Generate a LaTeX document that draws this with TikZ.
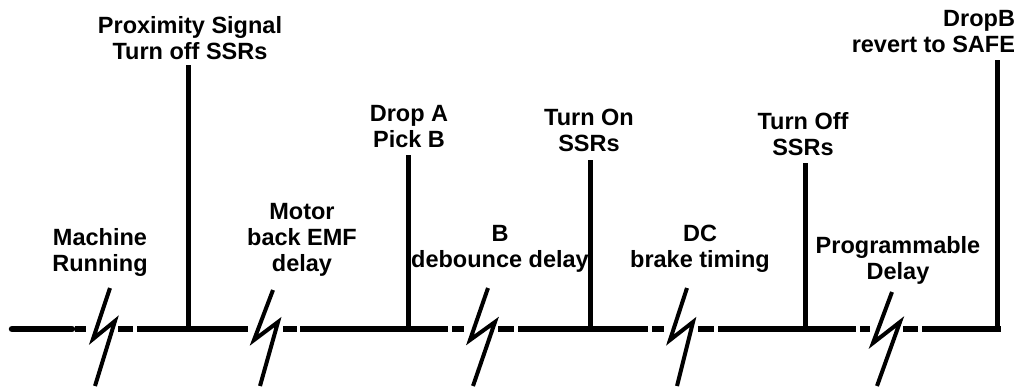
\documentclass[tikz,border=0pt]{standalone}
\usepackage{fontspec}
\setmainfont{Liberation Sans}
\begin{document}
\begin{tikzpicture}[x=1pt,y=-1pt,
  lbl/.style={inner sep=0pt,outer sep=0pt,anchor=north,align=center,
    font=\bfseries\fontsize{23.5}{26}\selectfont},
  axisline/.style={line width=6.5pt},
  tick/.style={line width=5pt},
  brk/.style={line width=4pt,line join=miter}]
\useasboundingbox (0,0) rectangle (1021,386);

% labels
\node[lbl] (l1) at (100,228) {Machine\\Running};
\node[lbl] (l2) at (190,16) {Proximity Signal\\Turn off SSRs};
\node[lbl] (l3) at (302,203) {Motor\\back EMF\\delay};
\node[lbl] (l4) at (409,105) {Drop A\\Pick B};
\node[lbl] (l5) at (500,225) {B\\debounce delay};
\node[lbl] (l6) at (589,109) {Turn On\\SSRs};
\node[lbl] (l7) at (700,225) {DC\\brake timing};
\node[lbl] (l8) at (803,112) {Turn Off\\SSRs};
\node[lbl] (l9) at (898,236) {Programmable\\Delay};
\node[lbl,anchor=north east,align=right] (l10) at (1015,10) {DropB\\revert to SAFE};

% vertical event marks
\coordinate (v1t) at (188,65);  \coordinate (v1b) at (188,329);
\coordinate (v2t) at (408,155); \coordinate (v2b) at (408,329);
\coordinate (v3t) at (590,160); \coordinate (v3b) at (590,329);
\coordinate (v4t) at (805,163); \coordinate (v4b) at (805,329);
\coordinate (v5t) at (997,60);  \coordinate (v5b) at (997,329);
\foreach \i in {1,...,5} \draw[tick] (v\i t) -- (v\i b);

% time axis pieces
\draw[axisline,line cap=round] (12,329) -- (72,329);
\draw[axisline] (75,329) -- (86,329);
\draw[axisline] (118,329) -- (133,329);
\draw[axisline] (137,329) -- (248,329);
\draw[axisline] (283,329) -- (297,329);
\draw[axisline] (300,329) -- (448,329);
\draw[axisline] (452,329) -- (464,329);
\draw[axisline] (498,329) -- (514,329);
\draw[axisline] (518,329) -- (648,329);
\draw[axisline] (652,329) -- (664,329);
\draw[axisline] (698,329) -- (714,329);
\draw[axisline] (718,329) -- (856,329);
\draw[axisline] (860,329) -- (870,329);
\draw[axisline] (903,329) -- (918,329);
\draw[axisline] (922,329) -- (1001,329);

% break symbols
\draw[brk] (110,288) -- (93,339) -- (115,321) -- (95,386);
\draw[brk] (273,290) -- (254,340) -- (278,322) -- (260,386);
\draw[brk] (488,288) -- (470,340) -- (495,322) -- (473,386);
\draw[brk] (687,288) -- (670,340) -- (693,322) -- (677,386);
\draw[brk] (892,292) -- (873,343) -- (900,322) -- (877,386);
\end{tikzpicture}
\end{document}
